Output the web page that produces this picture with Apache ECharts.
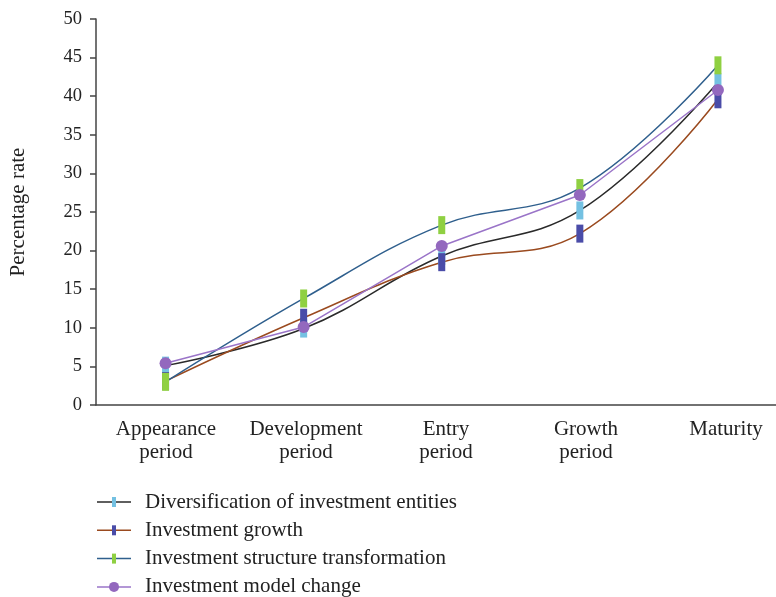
<!DOCTYPE html>
<html>
<head>
<meta charset="utf-8">
<script src="https://cdn.jsdelivr.net/npm/echarts@6/dist/echarts.min.js"></script>
<style>
html,body{margin:0;padding:0;background:#fff;}
#chart{width:776px;height:597px;}
</style>
</head>
<body>
<div id="chart"></div>
<script>
const categories = ['Appearance\nperiod', 'Development\nperiod', 'Entry\nperiod', 'Growth\nperiod', 'Maturity'];
const seriesNames = ['Diversification of investment entities', 'Investment growth', 'Investment structure transformation', 'Investment model change'];
const diversification = [5.1, 9.9, 19.3, 25.2, 41.8];
const growth = [3.1, 11.3, 18.5, 22.2, 39.6];
const structure = [3.0, 13.8, 23.3, 28.1, 44.0];
const modelChange = [5.4, 10.1, 20.6, 27.2, 40.8];
const yTicks = [0, 5, 10, 15, 20, 25, 30, 35, 40, 45, 50];

const lineColors = ['#2a2a2a', '#9a4a1f', '#2f5f8d', '#9a74c8'];
const markColors = ['#74c1e2', '#4a4ca8', '#8fd042', '#9368be'];

const FONT = '"Liberation Serif", "DejaVu Serif", serif';
const LEG_LINE = 'path://M0,0 L0,0 M0,5.25 L34,5.25 L34,6.75 L0,6.75 Z M34,12 L34,12';
const LEG_BAR = 'path://M0,0 L0,0 M15,0 L19,0 L19,10 L15,10 Z M34,10 L34,10';
const LEG_DOT = 'path://M0,0 L0,0 M12,5 A5,5 0 1,1 22,5 A5,5 0 1,1 12,5 Z M34,10 L34,10';

const chart = echarts.init(document.getElementById('chart'), null, {renderer: 'canvas'});

function lineSeries(i, data, symbol, size, smooth) {
  return {
    name: seriesNames[i],
    type: 'line',
    xAxisIndex: 1,
    yAxisIndex: 1,
    data: data,
    smooth: smooth,
    symbol: symbol,
    symbolSize: size,
    showSymbol: true,
    showAllSymbol: true,
    animation: false,
    lineStyle: {color: lineColors[i], width: 1.5},
    itemStyle: {color: markColors[i], borderWidth: 0},
    emphasis: {disabled: true}
  };
}

const legendCommon = {
  orient: 'vertical', left: 97, top: 491, height: 140, padding: 0,
  itemWidth: 34, itemGap: 6.3,
  selectedMode: false,
  itemStyle: {borderWidth: 0}
};

chart.setOption({
  animation: false,
  backgroundColor: '#ffffff',
  textStyle: {fontFamily: FONT},
  grid: [
    {left: 96, top: 19, width: 700, height: 386, containLabel: false, outerBoundsMode: 'none'},
    {left: 96.5, top: 19, width: 690.5, height: 386, containLabel: false, outerBoundsMode: 'none'}
  ],
  xAxis: [
    {
      type: 'category', gridIndex: 0, data: categories, boundaryGap: true,
      axisLine: {lineStyle: {color: '#444', width: 1.5}},
      axisTick: {alignWithLabel: true, length: 5, lineStyle: {color: '#444', width: 1.5}},
      axisLabel: {color: '#222', fontSize: 21, fontFamily: FONT, lineHeight: 23, margin: 13, interval: 0},
      splitLine: {show: false}
    },
    {
      type: 'category', gridIndex: 1, data: categories, boundaryGap: true, show: false
    }
  ],
  yAxis: [
    {
      type: 'value', gridIndex: 0, min: 0, max: 50, interval: 5,
      name: 'Percentage rate', nameLocation: 'middle', nameGap: 67, nameRotate: 90,
      nameTextStyle: {color: '#222', fontSize: 21, fontFamily: FONT},
      axisLine: {show: true, lineStyle: {color: '#444', width: 1.5}},
      axisTick: {show: true, length: 6, lineStyle: {color: '#444', width: 1.5}},
      axisLabel: {color: '#222', fontSize: 18.5, fontFamily: FONT, margin: 14,
        formatter: function (v) { return yTicks.indexOf(v) >= 0 ? String(v) : ''; }},
      splitLine: {show: false}
    },
    {
      type: 'value', gridIndex: 1, min: 0, max: 50, interval: 5, show: false
    }
  ],
  legend: [
    Object.assign({}, legendCommon, {
      itemHeight: 12,
      textStyle: {color: '#222', fontSize: 21, fontFamily: FONT, lineHeight: 22, padding: [0, 0, 0, 9]},
      data: seriesNames.map(function (n, i) {
        return {name: n, icon: LEG_LINE, itemStyle: {color: lineColors[i], borderWidth: 0}};
      })
    }),
    Object.assign({}, legendCommon, {
      itemHeight: 10,
      textStyle: {color: 'rgba(0,0,0,0)', fontSize: 21, fontFamily: FONT, lineHeight: 22, padding: [0, 0, 0, 9]},
      data: seriesNames.map(function (n, i) {
        return {name: n, icon: i === 3 ? LEG_DOT : LEG_BAR, itemStyle: {color: markColors[i], borderWidth: 0}};
      })
    })
  ],
  series: [
    lineSeries(0, diversification, 'rect', [7, 18], 0.4),
    lineSeries(1, growth, 'rect', [7, 18], 0.4),
    lineSeries(2, structure, 'rect', [7, 18], 0.4),
    lineSeries(3, modelChange, 'circle', 12, false)
  ]
});
</script>
</body>
</html>
